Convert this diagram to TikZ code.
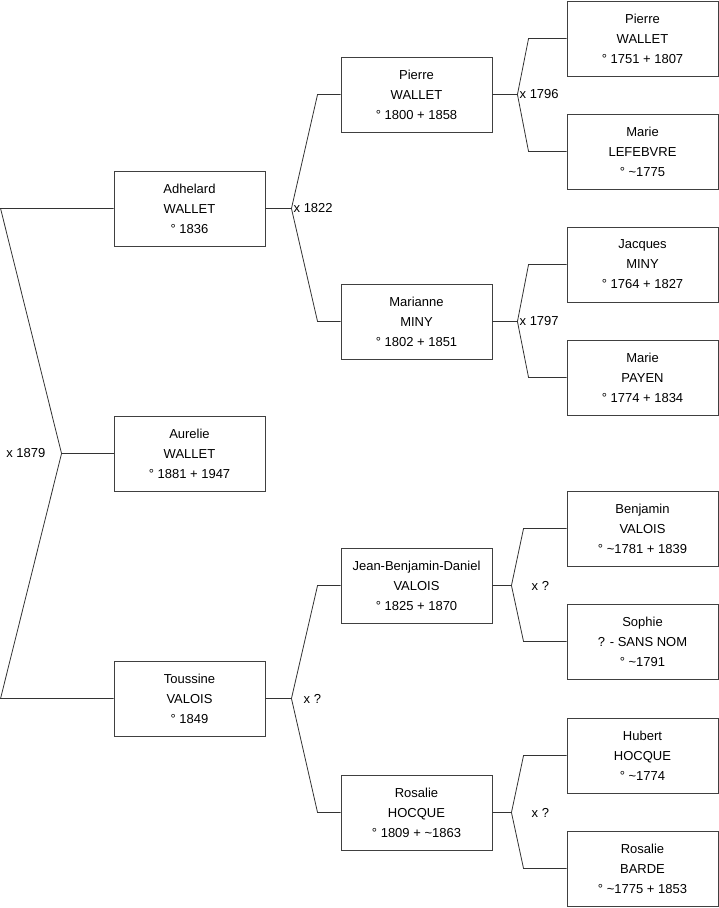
\documentclass[tikz,border=0pt]{standalone}
\usepackage{fontspec}
\setmainfont{Liberation Sans}
\usetikzlibrary{calc,positioning}

\begin{document}
\begin{tikzpicture}[x=1pt,y=-1pt,
 every node/.style={font=\fontsize{13}{20}\selectfont},
 person/.style={draw=black!75,line width=0.9pt,minimum width=151pt,minimum height=75pt,
   inner sep=0pt,align=center},
 link/.style={draw=black!80,line width=0.8pt},
 wedlock/.style={inner sep=0pt}]
\useasboundingbox (0,0) rectangle (719,908);
% generation 1 to 3
\node[person] (aurelie)  at (189.5,453.5) {Aurelie\\WALLET\\° 1881 + 1947};
\node[person] (adhelard) at (189.5,208.5) {Adhelard\\WALLET\\° 1836};
\node[person] (toussine) at (189.5,698.5) {Toussine\\VALOIS\\° 1849};
\node[person] (pierre)   at (416.5,94.5)  {Pierre\\WALLET\\° 1800 + 1858};
\node[person] (marianne) at (416.5,321.5) {Marianne\\MINY\\° 1802 + 1851};
\node[person] (jbd)      at (416.5,585.5) {Jean-Benjamin-Daniel\\VALOIS\\° 1825 + 1870};
\node[person] (rosalie)  at (416.5,812.5) {Rosalie\\HOCQUE\\° 1809 + \textasciitilde1863};
% generation 4
\node[person] (pierreW)  at (642.5,38.5)  {Pierre\\WALLET\\° 1751 + 1807};
\node[person] (marieL)   at (642.5,151.5) {Marie\\LEFEBVRE\\° \textasciitilde1775};
\node[person] (jacques)  at (642.5,264.5) {Jacques\\MINY\\° 1764 + 1827};
\node[person] (marieP)   at (642.5,377.5) {Marie\\PAYEN\\° 1774 + 1834};
\node[person] (benjamin) at (642.5,528.5) {Benjamin\\VALOIS\\° \textasciitilde1781 + 1839};
\node[person] (sophie)   at (642.5,641.5) {Sophie\\? - SANS NOM\\° \textasciitilde1791};
\node[person] (hubert)   at (642.5,755.5) {Hubert\\HOCQUE\\° \textasciitilde1774};
\node[person] (rosalieB) at (642.5,868.5) {Rosalie\\BARDE\\° \textasciitilde1775 + 1853};

% marriage of the parents of aurelie
\coordinate (m79) at ($(aurelie.west)+(-52,0)$);
\coordinate (e79a) at ($(adhelard.west)+(-113,0)$);
\coordinate (e79b) at ($(toussine.west)+(-113,0)$);
\draw[link] (aurelie.west) -- (m79);
\draw[link] (adhelard.west) -- (e79a) -- (m79) -- (e79b) -- (toussine.west);
\node[wedlock,left=16pt of m79] {x 1879};

% other marriages
\foreach \kid/\dad/\mum/\da/\de/\mm in {
  adhelard/pierre/marianne/26/23/m22,
  toussine/jbd/rosalie/26/23/m00,
  pierre/pierreW/marieL/25/38/m96,
  marianne/jacques/marieP/25/38/m97,
  jbd/benjamin/sophie/19/43/m01,
  rosalie/hubert/rosalieB/19/43/m02}{
  \coordinate (\mm) at ($(\kid.east)+(\da,0)$);
  \draw[link] (\kid.east) -- (\mm) -- ($(\dad.west)+(-\de,0)$) -- (\dad.west);
  \draw[link] (\mm) -- ($(\mum.west)+(-\de,0)$) -- (\mum.west);
}
\node[wedlock,right=2pt of m22] {x 1822};
\node[wedlock,right=2pt of m96] {x 1796};
\node[wedlock,right=2pt of m97] {x 1797};
\node[wedlock,right=12pt of m00] {x ?};
\node[wedlock,right=20pt of m01] {x ?};
\node[wedlock,right=20pt of m02] {x ?};
\end{tikzpicture}
\end{document}
